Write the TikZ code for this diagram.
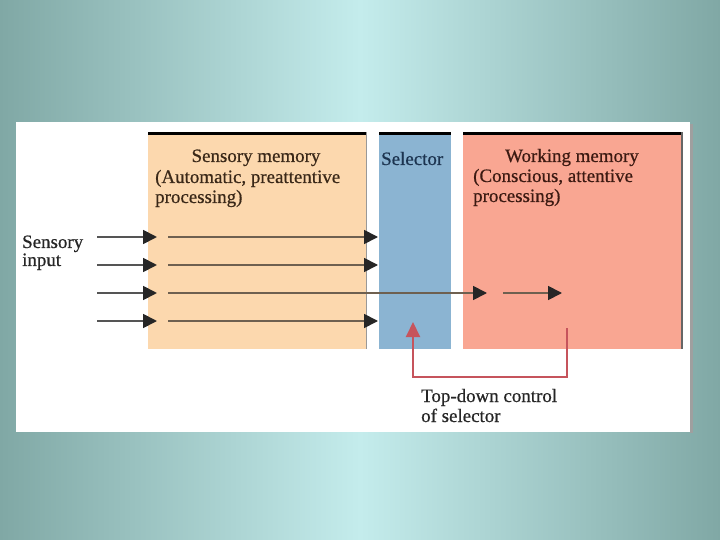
\documentclass[tikz,border=0pt]{standalone}
\usepackage{fontspec}
\setmainfont{Liberation Serif}
\newfontfamily\labelfont[FakeBold=0.6]{Liberation Serif}
\usetikzlibrary{arrows.meta,positioning}
\definecolor{bglight}{RGB}{196,236,236}
\definecolor{bgdark}{RGB}{128,168,165}
\definecolor{peach}{RGB}{252,216,174}
\definecolor{selblue}{RGB}{139,180,210}
\definecolor{salmon}{RGB}{249,166,146}
\definecolor{flowgray}{RGB}{110,96,80}
\definecolor{ingray}{RGB}{85,85,85}
\definecolor{ctrlred}{RGB}{198,84,92}
\definecolor{sensink}{RGB}{58,40,24}
\definecolor{selink}{RGB}{28,52,80}
\definecolor{wmink}{RGB}{60,26,18}
\tikzset{
  membox/.style={anchor=north west, inner sep=0pt, outer sep=0pt, minimum height=217bp},
  memtext/.style={font=\labelfont\fontsize{19}{21}\selectfont, inner sep=0pt},
  flow/.style={line width=1.8bp, draw=flowgray, -{Triangle[length=14bp,width=14bp,color=black!85]}},
  ctrl/.style={line width=2bp, draw=ctrlred, -{Triangle[length=15bp,width=14bp]}}
}
\begin{document}
\begin{tikzpicture}[x=1bp,y=-1bp]
  \useasboundingbox (0,0) rectangle (720,540);
  \shade[left color=bgdark, right color=bgdark, middle color=bglight] (0,0) rectangle (720,540);
  % white panel with its shadow
  \fill[gray!75] (690,124) rectangle (693,433);
  \fill[white] (16,122) rectangle (690,432);

  % the three stores
  \node[membox, fill=peach, minimum width=218bp] (sensory) at (148,132) {};
  \node[membox, fill=selblue, minimum width=72bp] (selector) at (379,132) {};
  \node[membox, fill=salmon, minimum width=219bp] (working) at (463,132) {};
  \foreach \b in {sensory,selector,working}
    \draw[line width=3bp] ([yshift=-1.5bp]\b.north west) -- ([yshift=-1.5bp]\b.north east);
  \draw[gray!80, line width=0.8bp] (sensory.north east) -- (sensory.south east);
  \draw[black!60, line width=1.5bp] (working.north east) -- (working.south east);

  % labels
  \node[memtext, text=sensink, anchor=base] (senstitle) at (256,162) {Sensory memory};
  \node[memtext, text=sensink, anchor=base west] (sensline) at (155,183) {(Automatic, preattentive};
  \node[memtext, text=sensink, anchor=base west] (sensproc) at (155,203) {processing)};
  \node[memtext, text=selink, anchor=base west] (seltitle) at (381,165) {Selector};
  \node[memtext, text=wmink, anchor=base] (wmtitle) at (572,162) {Working memory};
  \node[memtext, text=wmink, anchor=base west] (wmline) at (473,182) {(Conscious, attentive};
  \node[memtext, text=wmink, anchor=base west] (wmproc) at (473,202) {processing)};
  \node[memtext, text=black!85, anchor=base west] (input) at (22,248) {Sensory};
  \node[memtext, text=black!85, anchor=base west] (inputb) at (22,266) {input};
  \node[memtext, text=black!85, anchor=base west] (ctrltext) at (421,402) {Top-down control};
  \node[memtext, text=black!85, anchor=base west] (ctrltextb) at (421,422) {of selector};

  % sensory channels
  \foreach \r/\y in {1/237,2/265,3/293,4/321}{
    \coordinate (in\r) at (97,\y);
    \coordinate (entry\r) at (157,\y);
    \coordinate (start\r) at (168,\y);
    \coordinate (exit\r) at (378,\y);
    \draw[flow, draw=ingray] (in\r) -- (entry\r);
  }
  \foreach \r in {1,2,4}
    \draw[flow] (start\r) -- (exit\r);
  \coordinate (pass3) at (487,293);
  \coordinate (wmstart) at (503,293);
  \coordinate (wmend) at (562,293);
  \draw[flow] (start3) -- (pass3);
  \draw[flow] (wmstart) -- (wmend);

  % top-down control loop
  \coordinate (ctrlstart) at (567,328);
  \coordinate (ctrlend) at (413,322);
  \draw[ctrl] (ctrlstart) -- ++(0,49) -| (ctrlend);
\end{tikzpicture}
\end{document}
